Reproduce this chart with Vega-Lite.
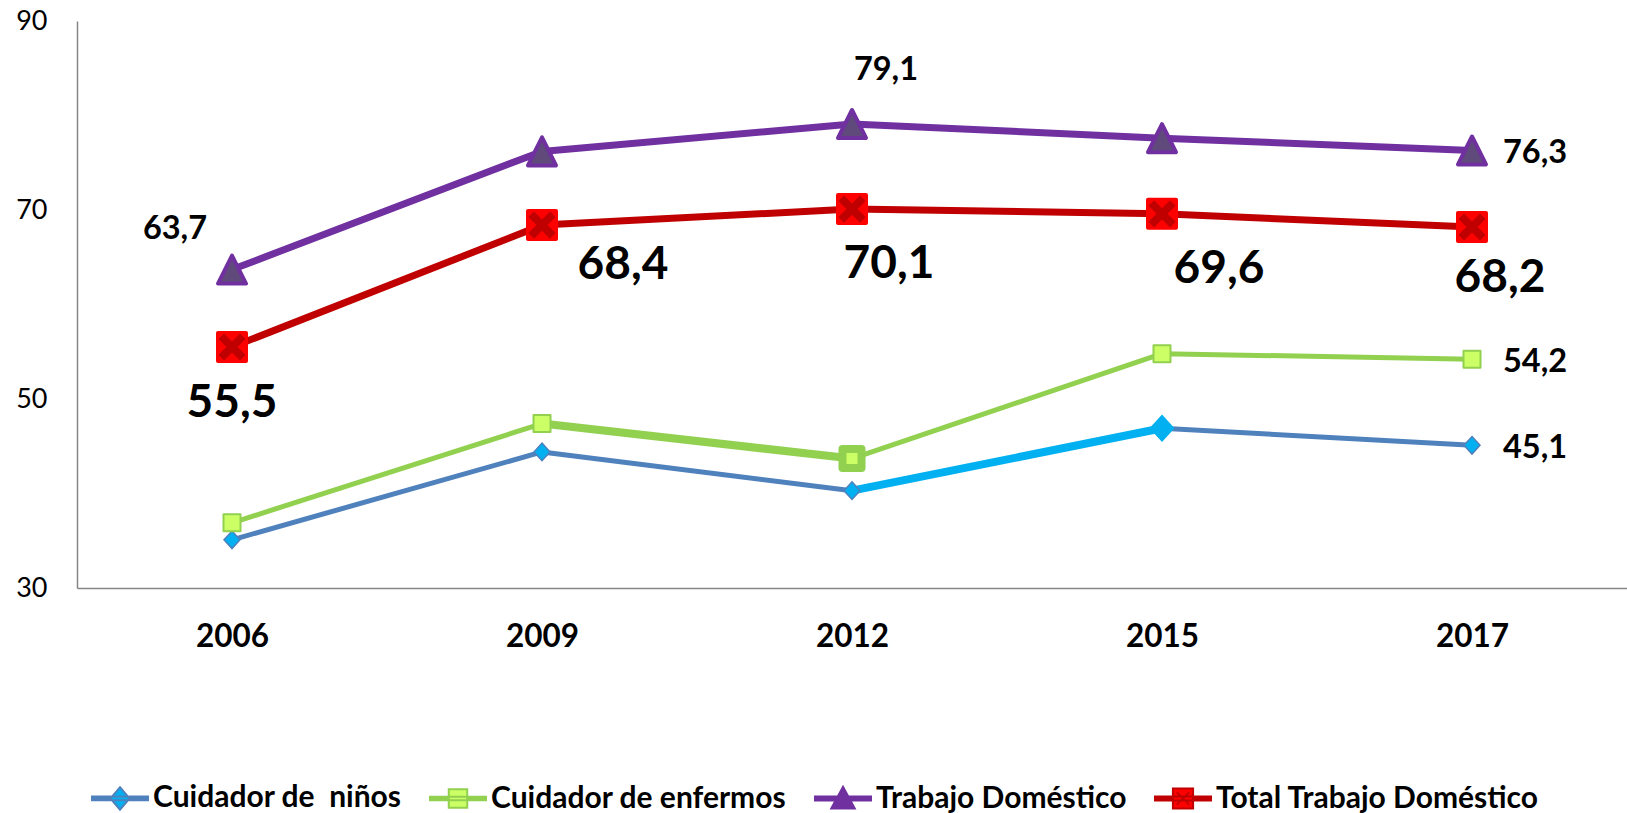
{
  "$schema": "https://vega.github.io/schema/vega-lite/v6.json",
  "width": 1550,
  "height": 567,
  "autosize": {"type": "none"},
  "padding": {"left": 77, "top": 21, "right": 0, "bottom": 225},
  "background": "white",
  "config": {
    "view": {"stroke": null},
    "locale": {"number": {"decimal": ",", "thousands": ".", "grouping": [3], "currency": ["", " €"]}}
  },
  "data": {
    "values": [
      {"year": 2006, "serie": "Cuidador de  niños", "value": 35.1},
      {"year": 2009, "serie": "Cuidador de  niños", "value": 44.4},
      {"year": 2012, "serie": "Cuidador de  niños", "value": 40.3},
      {"year": 2015, "serie": "Cuidador de  niños", "value": 46.9},
      {"year": 2017, "serie": "Cuidador de  niños", "value": 45.1},
      {"year": 2006, "serie": "Cuidador de enfermos", "value": 36.9},
      {"year": 2009, "serie": "Cuidador de enfermos", "value": 47.4},
      {"year": 2012, "serie": "Cuidador de enfermos", "value": 43.7},
      {"year": 2015, "serie": "Cuidador de enfermos", "value": 54.8},
      {"year": 2017, "serie": "Cuidador de enfermos", "value": 54.2},
      {"year": 2006, "serie": "Trabajo Doméstico", "value": 63.7},
      {"year": 2009, "serie": "Trabajo Doméstico", "value": 76.2},
      {"year": 2012, "serie": "Trabajo Doméstico", "value": 79.1},
      {"year": 2015, "serie": "Trabajo Doméstico", "value": 77.6},
      {"year": 2017, "serie": "Trabajo Doméstico", "value": 76.3},
      {"year": 2006, "serie": "Total Trabajo Doméstico", "value": 55.5},
      {"year": 2009, "serie": "Total Trabajo Doméstico", "value": 68.4},
      {"year": 2012, "serie": "Total Trabajo Doméstico", "value": 70.1},
      {"year": 2015, "serie": "Total Trabajo Doméstico", "value": 69.6},
      {"year": 2017, "serie": "Total Trabajo Doméstico", "value": 68.2}
    ]
  },
  "encoding": {
    "x": {
      "field": "year", "type": "ordinal",
      "scale": {"type": "point", "padding": 0.5},
      "axis": {
        "title": null, "labelAngle": 0, "grid": false, "ticks": false, "tickSize": 0,
        "domain": true, "domainColor": "#868686", "domainWidth": 1.5,
        "labelFont": "Lato", "labelFontWeight": "bold", "labelFontSize": 31.5, "labelColor": "#000000",
        "labelPadding": 33, "labelBaseline": "top", "labelAlign": "center"
      }
    },
    "y": {
      "field": "value", "type": "quantitative",
      "scale": {"domain": [30, 90], "nice": false, "zero": false},
      "axis": {
        "title": null, "values": [30, 50, 70, 90], "grid": false, "ticks": false, "tickSize": 0,
        "domain": true, "domainColor": "#868686", "domainWidth": 1.5,
        "labelFont": "Lato", "labelFontWeight": "normal", "labelFontSize": 27, "labelColor": "#000000",
        "labelPadding": 30, "labelBaseline": "middle"
      }
    }
  },
  "layer": [
    {
      "mark": {"type": "line", "strokeWidth": 5, "strokeJoin": "round", "strokeCap": "round"},
      "transform": [{"filter": "datum.serie == 'Cuidador de  niños' || datum.serie == 'Cuidador de enfermos'"}],
      "encoding": {
        "color": {
          "field": "serie", "type": "nominal",
          "scale": {
            "domain": ["Cuidador de  niños", "Cuidador de enfermos", "Trabajo Doméstico", "Total Trabajo Doméstico"],
            "range": ["#4F81BD", "#92D050", "#7030A0", "#C00000"]
          },
          "legend": {
            "orient": "none", "legendX": 14, "legendY": 748, "direction": "horizontal", "columns": 4,
            "title": null, "padding": 0, "symbolSize": 3136, "symbolStrokeWidth": 2, "labelFont": "Lato", "labelFontWeight": "bold",
            "labelFontSize": 30, "labelColor": "#000000", "labelOffset": 4, "columnPadding": 24, "labelLimit": 800,
            "labelExpr": "replace(datum.label, '  ', ' \u00a0')",
            "encode": {
              "symbols": {
                "update": {
                  "size": {"value": 3136},
                  "strokeWidth": {"value": 2},
                  "shape": {"signal": "datum.value === 'Cuidador de  niños' ? 'M-1,-0.065H1V0.065H-1ZM0,-0.4L0.34,0L0,0.4L-0.34,0Z' : datum.value === 'Cuidador de enfermos' ? 'M-1,-0.065H1V0.065H-1ZM-0.33,-0.33H0.33V0.33H-0.33Z' : datum.value === 'Trabajo Doméstico' ? 'M-1,-0.075H1V0.075H-1ZM0,-0.42L0.42,0.36L-0.42,0.36Z' : 'M-1,-0.075H1V0.075H-1ZM-0.36,-0.36H0.36V0.36H-0.36ZM-0.22,-0.22L0.22,0.22M0.22,-0.22L-0.22,0.22'"},
                  "fill": {"signal": "datum.value === 'Cuidador de  niños' ? {gradient: 'linear', x1: 0, y1: 0, x2: 1, y2: 0, stops: [{offset: 0, color: '#4F81BD'}, {offset: 0.33, color: '#4F81BD'}, {offset: 0.33, color: '#00B0F0'}, {offset: 0.67, color: '#00B0F0'}, {offset: 0.67, color: '#4F81BD'}, {offset: 1, color: '#4F81BD'}]} : datum.value === 'Cuidador de enfermos' ? {gradient: 'linear', x1: 0, y1: 0, x2: 1, y2: 0, stops: [{offset: 0, color: '#92D050'}, {offset: 0.335, color: '#92D050'}, {offset: 0.335, color: '#CCFF66'}, {offset: 0.665, color: '#CCFF66'}, {offset: 0.665, color: '#92D050'}, {offset: 1, color: '#92D050'}]} : datum.value === 'Trabajo Doméstico' ? '#7030A0' : {gradient: 'linear', x1: 0, y1: 0, x2: 1, y2: 0, stops: [{offset: 0, color: '#C00000'}, {offset: 0.32, color: '#C00000'}, {offset: 0.32, color: '#FF0000'}, {offset: 0.68, color: '#FF0000'}, {offset: 0.68, color: '#C00000'}, {offset: 1, color: '#C00000'}]}"},
                  "stroke": {"signal": "datum.value === 'Cuidador de  niños' ? '#4F81BD' : datum.value === 'Cuidador de enfermos' ? '#92D050' : datum.value === 'Trabajo Doméstico' ? '#7030A0' : '#C00000'"},
                  "opacity": {"value": 1},
                  "fillOpacity": {"value": 1},
                  "strokeOpacity": {"value": 1}
                }
              }
            }
          }
        }
      }
    },
    {
      "mark": {"type": "line", "strokeWidth": 8, "strokeJoin": "round", "strokeCap": "round", "color": "#00B0F0"},
      "transform": [{"filter": "datum.serie == 'Cuidador de  niños' && datum.year >= 2012 && datum.year <= 2015"}],
      "encoding": {}
    },
    {
      "mark": {"type": "line", "strokeWidth": 8, "strokeJoin": "round", "strokeCap": "round", "color": "#92D050"},
      "transform": [{"filter": "datum.serie == 'Cuidador de enfermos' && datum.year >= 2009 && datum.year <= 2012"}],
      "encoding": {}
    },
    {
      "mark": {"type": "point", "shape": "M0,-1.1L1,0L0,1.1L-1,0Z", "size": 256, "filled": true, "fill": "#00B0F0", "stroke": "#4F81BD", "strokeWidth": 1.5, "opacity": 1},
      "transform": [{"filter": "datum.serie == 'Cuidador de  niños' && datum.year != 2015"}],
      "encoding": {}
    },
    {
      "mark": {"type": "point", "shape": "M0,-1.1L1,0L0,1.1L-1,0Z", "size": 500, "filled": true, "fill": "#00B0F0", "stroke": "#00B0F0", "strokeWidth": 2, "opacity": 1},
      "transform": [{"filter": "datum.serie == 'Cuidador de  niños' && datum.year == 2015"}],
      "encoding": {}
    },
    {
      "mark": {"type": "point", "shape": "square", "size": 289, "filled": true, "fill": "#CCFF66", "stroke": "#92D050", "strokeWidth": 2, "strokeJoin": "round", "opacity": 1},
      "transform": [{"filter": "datum.serie == 'Cuidador de enfermos' && datum.year != 2012"}],
      "encoding": {}
    },
    {
      "mark": {"type": "point", "shape": "square", "size": 361, "filled": true, "fill": "#CCFF66", "stroke": "#92D050", "strokeWidth": 8, "strokeJoin": "round", "opacity": 1},
      "transform": [{"filter": "datum.serie == 'Cuidador de enfermos' && datum.year == 2012"}],
      "encoding": {}
    },
    {
      "mark": {"type": "line", "strokeWidth": 7, "strokeJoin": "round", "strokeCap": "round"},
      "transform": [{"filter": "datum.serie == 'Trabajo Doméstico' || datum.serie == 'Total Trabajo Doméstico'"}],
      "encoding": {"color": {"field": "serie", "type": "nominal"}}
    },
    {
      "mark": {"type": "point", "shape": "M0,-1L1,1L-1,1Z", "size": 784, "filled": true, "fill": "#604A7B", "stroke": "#7030A0", "strokeWidth": 4, "strokeJoin": "round", "opacity": 1},
      "transform": [{"filter": "datum.serie == 'Trabajo Doméstico'"}],
      "encoding": {}
    },
    {
      "mark": {"type": "point", "shape": "square", "size": 784, "filled": true, "fill": "#FF0000", "stroke": "#FF0000", "strokeWidth": 4, "strokeJoin": "round", "opacity": 1},
      "transform": [{"filter": "datum.serie == 'Total Trabajo Doméstico'"}],
      "encoding": {}
    },
    {
      "mark": {"type": "point", "shape": "M-0.85,-0.5L-0.5,-0.85L0,-0.35L0.5,-0.85L0.85,-0.5L0.35,0L0.85,0.5L0.5,0.85L0,0.35L-0.5,0.85L-0.85,0.5L-0.35,0Z", "size": 1024, "filled": true, "fill": "#C00000", "strokeWidth": 0, "opacity": 1},
      "transform": [{"filter": "datum.serie == 'Total Trabajo Doméstico'"}],
      "encoding": {}
    },
    {
      "mark": {"type": "text", "font": "Lato", "fontWeight": "bold", "fontSize": 32.5, "fill": "#000000", "align": "center", "baseline": "middle", "dx": -57, "dy": -41},
      "transform": [{"filter": "datum.serie == 'Trabajo Doméstico' && datum.year == 2006"}],
      "encoding": {"text": {"field": "value", "type": "quantitative", "format": ".1f"}}
    },
    {
      "mark": {"type": "text", "font": "Lato", "fontWeight": "bold", "fontSize": 32.5, "fill": "#000000", "align": "center", "baseline": "middle", "dx": 34, "dy": -54},
      "transform": [{"filter": "datum.serie == 'Trabajo Doméstico' && datum.year == 2012"}],
      "encoding": {"text": {"field": "value", "type": "quantitative", "format": ".1f"}}
    },
    {
      "mark": {"type": "text", "font": "Lato", "fontWeight": "bold", "fontSize": 32.5, "fill": "#000000", "align": "left", "baseline": "middle", "dx": 31, "dy": 3},
      "transform": [{"filter": "datum.serie != 'Total Trabajo Doméstico' && datum.year == 2017"}],
      "encoding": {"text": {"field": "value", "type": "quantitative", "format": ".1f"}}
    },
    {
      "mark": {"type": "text", "font": "Lato", "fontWeight": "bold", "fontSize": 46, "fill": "#000000", "align": "center", "baseline": "middle", "dx": 0, "dy": 56},
      "transform": [{"filter": "datum.serie == 'Total Trabajo Doméstico' && datum.year == 2006"}],
      "encoding": {"text": {"field": "value", "type": "quantitative", "format": ".1f"}}
    },
    {
      "mark": {"type": "text", "font": "Lato", "fontWeight": "bold", "fontSize": 46, "fill": "#000000", "align": "center", "baseline": "middle", "dx": 81, "dy": 40},
      "transform": [{"filter": "datum.serie == 'Total Trabajo Doméstico' && datum.year == 2009"}],
      "encoding": {"text": {"field": "value", "type": "quantitative", "format": ".1f"}}
    },
    {
      "mark": {"type": "text", "font": "Lato", "fontWeight": "bold", "fontSize": 46, "fill": "#000000", "align": "center", "baseline": "middle", "dx": 37, "dy": 55},
      "transform": [{"filter": "datum.serie == 'Total Trabajo Doméstico' && datum.year == 2012"}],
      "encoding": {"text": {"field": "value", "type": "quantitative", "format": ".1f"}}
    },
    {
      "mark": {"type": "text", "font": "Lato", "fontWeight": "bold", "fontSize": 46, "fill": "#000000", "align": "center", "baseline": "middle", "dx": 57, "dy": 55},
      "transform": [{"filter": "datum.serie == 'Total Trabajo Doméstico' && datum.year == 2015"}],
      "encoding": {"text": {"field": "value", "type": "quantitative", "format": ".1f"}}
    },
    {
      "mark": {"type": "text", "font": "Lato", "fontWeight": "bold", "fontSize": 46, "fill": "#000000", "align": "center", "baseline": "middle", "dx": 28, "dy": 51},
      "transform": [{"filter": "datum.serie == 'Total Trabajo Doméstico' && datum.year == 2017"}],
      "encoding": {"text": {"field": "value", "type": "quantitative", "format": ".1f"}}
    }
  ]
}
